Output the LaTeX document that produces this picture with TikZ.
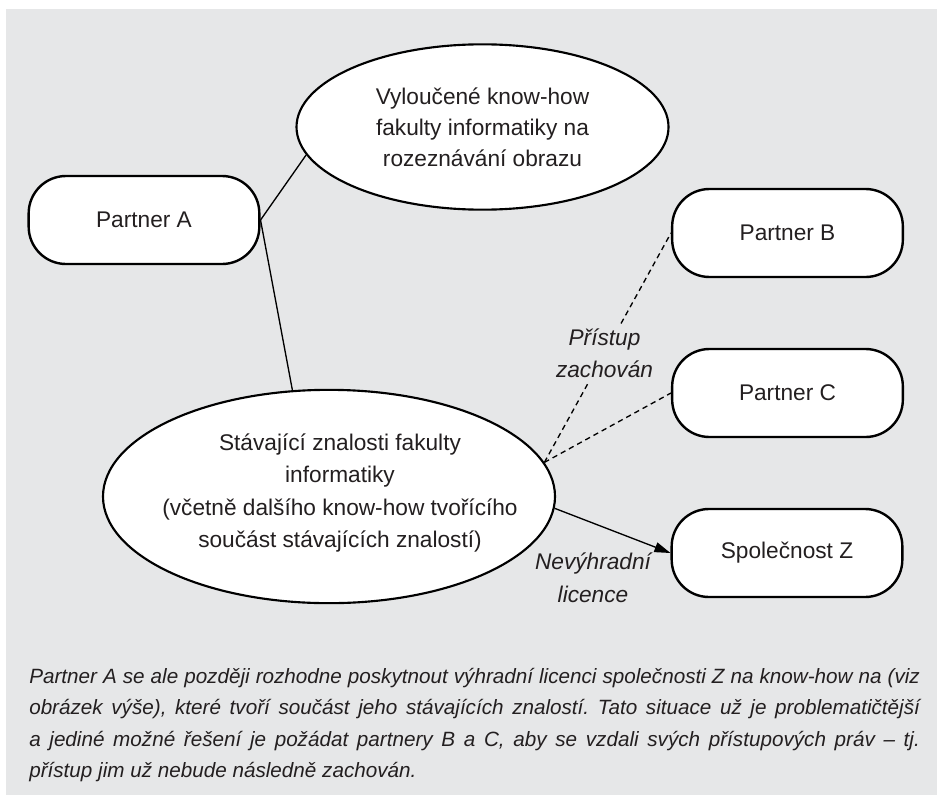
\documentclass[tikz,border=0pt]{standalone}
\usepackage{fontspec}
\setmainfont{Liberation Sans}
\usetikzlibrary{shapes.geometric,arrows.meta}
\frenchspacing

\definecolor{panel}{RGB}{230,231,232}
\definecolor{ink}{RGB}{35,31,32}

\tikzset{
  partner/.style={draw=black, line width=1.8pt, fill=white, rounded corners=28pt,
    minimum width=173pt, minimum height=66pt, inner sep=0pt, text=ink,
    font=\fontsize{17}{23}\selectfont},
  bubble/.style={ellipse, draw=black, line width=1.6pt, fill=white, inner sep=0pt},
  bubbletext/.style={align=center, text=ink, inner sep=0pt},
  link/.style={line width=1pt, draw=black},
  access/.style={link, dash pattern=on 4pt off 3pt},
  lbl/.style={align=center, text=ink, inner sep=3pt,
    font=\fontsize{17}{24.5}\selectfont\itshape},
}

\begin{document}
\begin{tikzpicture}[x=0.75pt, y=-0.75pt]
  \useasboundingbox (0,0) rectangle (937,795);
  % grey panel
  \fill[panel] (6,9) rectangle (937,795);

  % ellipses
  \node[bubble, bubbletext, minimum width=279pt, minimum height=124pt,
        font=\fontsize{17}{23.25}\selectfont] (excl) at (482.5,127)
        {Vyloučené know-how\\fakulty informatiky na\\rozeznávání obrazu};
  \node[bubble, minimum width=339pt, minimum height=160pt] (know) at (329,496.5) {};
  \node[bubbletext, font=\fontsize{17}{24}\selectfont] (knowtext) at (340,493)
        {Stávající znalosti fakulty\\informatiky\\(včetně dalšího know-how tvořícího\\součást stávajících znalostí)};

  % partner boxes
  \node[partner] (pa) at (144,220) {Partner A};
  \node[partner] (pb) at (787.5,233) {Partner B};
  \node[partner] (pc) at (787.5,393) {Partner C};
  \node[partner] (sz) at (787,553) {Společnost Z};

  % connectors
  \draw[link] (pa.east) -- (excl.189);
  \draw[link] (pa.east) -- (know.109);
  \draw[access] (know.9) -- (pc.west);
  \draw[access] (know.9) -- node[pos=0.475, lbl, fill=panel] (acc) {Přístup\\zachován} (pb.west);
  \draw[link, -{Triangle[length=12pt, width=7.5pt]}] (know.-3) -- (sz.west);
  \node[lbl] (lic) at (593,578) {Nevýhradní\\licence};

  % caption
  \node[anchor=north west, inner sep=0pt, text width=668pt, align=justify, text=ink,
        font=\fontsize{15.5}{23.6}\selectfont\itshape] (caption) at (29,668)
  {Partner A se ale později rozhodne poskytnout výhradní licenci společnosti Z na know-how na (viz\linebreak
   obrázek výše), které tvoří součást jeho stávajících znalostí. Tato situace už je problematičtější\linebreak
   a jediné možné řešení je požádat partnery B a C, aby se vzdali svých přístupových práv – tj.\linebreak
   přístup jim už nebude následně zachován.};
\end{tikzpicture}
\end{document}
